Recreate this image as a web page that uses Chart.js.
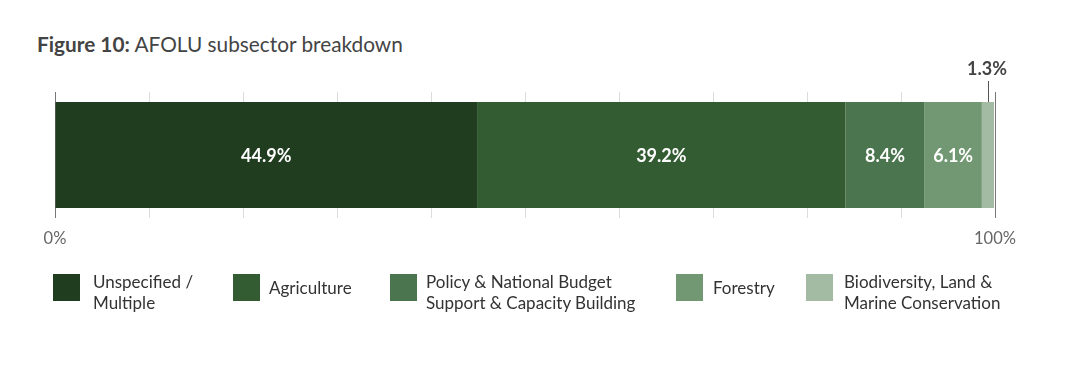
<!DOCTYPE html>
<html><head><meta charset="utf-8">
<script src="https://cdn.jsdelivr.net/npm/chart.js@4"></script>
<style>
html,body{margin:0;padding:0;background:#fff;width:1074px;height:371px;overflow:hidden;font-family:Lato,"Open Sans",sans-serif;}
#title{position:absolute;left:37px;top:31px;font-size:20.8px;color:#444;white-space:nowrap;}
#title b{font-weight:700;}
#wrap{position:absolute;left:0;top:0;width:1074px;height:250px;}
#legend{position:absolute;left:0;top:0;width:1074px;height:371px;pointer-events:none;}
.li{position:absolute;top:274px;}
.sw{position:absolute;left:0;top:0;width:27px;height:27px;}
.tx{position:absolute;top:-3px;font-size:17px;line-height:21px;color:#333;white-space:nowrap;}
</style></head><body>
<div id="title"><b>Figure 10:</b> AFOLU subsector breakdown</div>
<div id="wrap"><canvas id="c" width="1074" height="250"></canvas></div>
<div id="legend"></div>
<script>
const categories = ["AFOLU"];
const seriesNames = ["Unspecified / Multiple","Agriculture","Policy & National Budget Support & Capacity Building","Forestry","Biodiversity, Land & Marine Conservation"];
const legendLines = [["Unspecified /","Multiple"],["Agriculture"],["Policy & National Budget","Support & Capacity Building"],["Forestry"],["Biodiversity, Land &","Marine Conservation"]];
const seriesValues = [44.9, 39.2, 8.4, 6.1, 1.3];
const seriesColors = ["#203d20","#335c32","#4b754e","#719872","#a3bba3"];
const tickLabels = {0:"0%",100:"100%"};
const legendX = [53,233,390,676,806];
const legendTextDx = [40,36,36,37,38];

const labelPlugin = {
  id:'segLabels',
  afterDatasetsDraw(chart){
    const ctx = chart.ctx;
    ctx.save();
    chart.data.datasets.forEach((ds,i)=>{
      const el = chart.getDatasetMeta(i).data[0];
      const cx = (el.x + el.base)/2;
      const txt = ds.data[0].toFixed(1)+'%';
      ctx.font = 'bold 18px Lato, "Open Sans", sans-serif';
      ctx.textAlign='center'; ctx.textBaseline='middle';
      if (ds.data[0] < 3) {
        ctx.strokeStyle='#555'; ctx.lineWidth=1;
        ctx.beginPath(); ctx.moveTo(Math.round(cx)+0.5, el.y - el.height/2 - 21); ctx.lineTo(Math.round(cx)+0.5, el.y - el.height/2); ctx.stroke();
        ctx.fillStyle='#444';
        ctx.fillText(txt, cx - 1, el.y - el.height/2 - 33);
      } else {
        ctx.fillStyle='#fff';
        ctx.fillText(txt, cx, el.y+1);
      }
    });
    ctx.restore();
  }
};

new Chart(document.getElementById('c'), {
  type:'bar',
  data:{
    labels:categories,
    datasets: seriesNames.map((n,i)=>({label:n,data:[seriesValues[i]],backgroundColor:seriesColors[i],borderWidth:0,categoryPercentage:1,barPercentage:106/126}))
  },
  options:{
    indexAxis:'y',
    responsive:false,animation:false,
    layout:{padding:{left:55,right:79,top:92,bottom:0}},
    plugins:{legend:{display:false},tooltip:{enabled:false}},
    scales:{
      x:{stacked:true,min:0,max:100,
        afterFit(s){s.height=32;},
        border:{display:false},
        grid:{drawTicks:false,lineWidth:1,color:(c)=> (c.tick && (c.tick.value===0||c.tick.value===100)) ? '#777' : '#dcdcdc'},
        ticks:{stepSize:10,padding:11,autoSkip:false,maxRotation:0,color:'#666',font:{family:'Lato, "Open Sans", sans-serif',size:16.5},
          callback:(v)=> tickLabels[v] || ''}
      },
      y:{stacked:true,display:false}
    }
  },
  plugins:[labelPlugin]
});

const lg = document.getElementById('legend');
seriesNames.forEach((n,i)=>{
  const d=document.createElement('div'); d.className='li'; d.style.left=legendX[i]+'px';
  const sw=document.createElement('div'); sw.className='sw'; sw.style.background=seriesColors[i]; d.appendChild(sw);
  const t=document.createElement('div'); t.className='tx'; t.style.left=legendTextDx[i]+'px';
  if(legendLines[i].length===1) t.style.top='3px';
  t.innerHTML=legendLines[i].map(s=>s.replace(/&/g,'&amp;')).join('<br>');
  d.appendChild(t); lg.appendChild(d);
});
</script>
</body></html>
